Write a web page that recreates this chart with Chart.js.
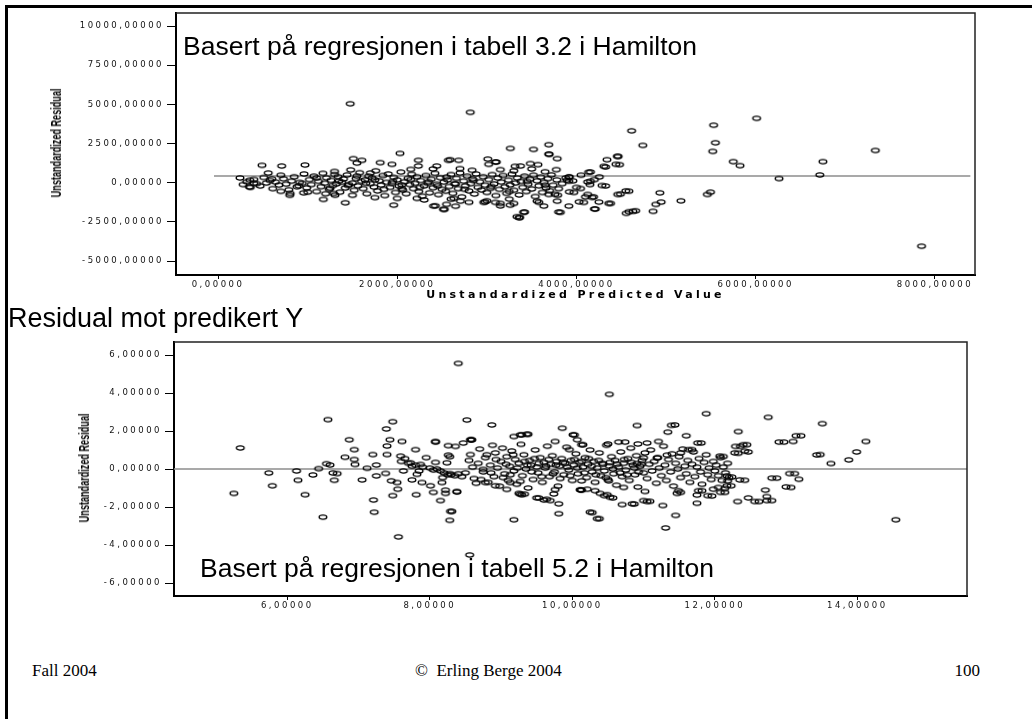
<!DOCTYPE html>
<html>
<head>
<meta charset="utf-8">
<script src="https://cdn.jsdelivr.net/npm/chart.js@4/dist/chart.umd.min.js"></script>
<style>
  html, body { margin: 0; padding: 0; background: #fff; }
  body { width: 1032px; height: 719px; position: relative; overflow: hidden; font-family: "Liberation Sans", Arial, sans-serif; }
  .frame { position: absolute; left: 5px; top: 5px; width: 1100px; height: 800px; border-left: 3px solid #000; border-top: 3px solid #000; }
  canvas { position: absolute; }
  #chartTop { left: 40px; top: 5px; }
  #chartBottom { left: 70px; top: 334px; }
  .note { position: absolute; white-space: nowrap; line-height: 1; color: #000; }
  .ytitle { position: absolute; white-space: nowrap; font-weight: bold; font-size: 14px; line-height: 1; color: #000;
            transform: translate(-50%, -50%) rotate(-90deg) scaleX(0.65); }
  .foot { position: absolute; font-family: "Liberation Serif", "Times New Roman", serif; font-size: 17px; line-height: 1; white-space: nowrap; }
</style>
</head>
<body>
<div class="frame"></div>
<canvas id="chartTop" width="950" height="300"></canvas>
<canvas id="chartBottom" width="920" height="285"></canvas>

<div class="ytitle" style="left:56px; top:143px;">Unstandardized Residual</div>
<div class="ytitle" style="left:84px; top:468px;">Unstandardized Residual</div>

<div class="note" style="left:183px; top:33px; font-size:26.5px;">Basert på regresjonen i tabell 3.2 i Hamilton</div>
<div class="note" style="left:8px; top:305px; font-size:27px;">Residual mot predikert Y</div>
<div class="note" style="left:200px; top:555px; font-size:26.5px;">Basert på regresjonen i tabell 5.2 i Hamilton</div>

<div class="foot" style="left:32px; top:662px;">Fall 2004</div>
<div class="foot" style="left:415px; top:662px;">©&nbsp; Erling Berge 2004</div>
<div class="foot" style="right:52px; top:662px;">100</div>

<script>
// tabell 3.2: [predicted, residual]
const residualsTop = [
  [1475,5040],[2815,4490],[2030,1870],[3262,2190],[6010,4110],[5530,3670],[4615,3310],[4740,2380],[5550,2550],[5520,2000],
  [7335,2060],[6750,1345],[6715,495],[6260,265],[5750,1345],[5825,1090],[7850,-4050],[5495,-600],[5460,-750],[5165,-1155],
  [4930,-645],[4945,-1235],[4885,-1385],[4855,-1825],[4630,-1825],[4555,-1955],[4550,-520],[4460,-750],[4455,1680],[4440,1175],
  [4340,1470],[4305,1045],[4255,370],[4135,665],[4360,-1320],[4200,-1680],[4175,-940],[4125,-750],[4250,-1235],[4285,-180],
  [4125,50],[4030,-1220],[3915,-1490],[3800,-1870],[3785,-1175],[3915,370],[3915,95],[3690,2425],[3690,1825],[3785,1535],
  [3775,835],[3520,2125],[3570,1155],[3485,1220],[3375,1065],[3635,-1490],[3420,-1870],[3360,-2235],
  [490,1110],[710,1065],[970,1130],[245,305],[355,160],[350,-265],[560,620],[805,-685],[955,-645],[1175,-1065],
  [1305,-795],[1420,-1280],[1960,-1430],[2405,-1490],[2515,-1700],[1510,1535],[1605,1430],[1550,1255],[1810,1280],[1940,1175],
  [2235,1430],[2235,1065],[2570,1430],[2685,1430],[2440,1065],[3010,1510],[3095,1320],[3020,1175],[2835,795],[3150,835],
  [3315,1045],[2050,-370],[1290,-685],[2220,-1000],[3150,-1320],[2980,-1220],[3335,-2170],[3300,-1320],
  [3695,1810],[2590,1470],[3105,1320],[4465,1680],[4480,1155],[4325,1005],[4155,685],[4490,-730],[4585,-540],[4585,-1850],
  [4660,-1790],[4380,-1320],[4210,-1680],[4080,-1255],[3820,-1890],[3410,-1890],[3365,-2210],[3260,-1430],[2965,-1255],[3095,-1255],
  [2425,-1470],[2525,-1700],[2705,-1175],[2630,-1000],[3560,-1175],[3690,-750],[3790,-795],[3970,-620],[4190,-900],[4045,-370],
  [4155,95],[4325,-205],[3920,370],[3895,160],
  [280,-120],[320,60],[360,-300],[400,210],[430,-60],[470,-210],[510,330],[540,-20],[580,140],[610,-380],
  [640,40],[680,-150],[700,480],[730,250],[760,-90],[790,-450],[820,100],[850,380],[880,-260],[910,20],
  [940,-40],[960,560],[990,-330],[1020,200],[1040,-120],[1070,420],[1100,-560],[1120,90],[1150,-250],[1170,600],
  [1190,-30],[1210,310],[1240,-420],[1260,150],[1280,-180],[1300,720],[1320,-80],[1340,380],[1360,-600],[1380,30],
  [1400,240],[1420,-340],[1440,500],[1460,-120],[1480,820],[1500,-20],[1520,-480],[1540,270],[1560,-200],[1580,640],
  [1600,90],[1620,-380],[1640,180],[1660,-700],[1680,420],[1700,-60],[1720,300],[1740,-280],[1760,760],[1780,-520],
  [1800,120],[1820,-150],[1840,460],[1860,-820],[1880,20],[1900,560],[1920,-300],[1940,-40],[1960,340],[1980,-620],
  [2000,180],[2020,-220],[2040,680],[2060,-460],[2080,60],[2100,-700],[2120,280],[2140,-120],[2160,540],[2180,-380],
  [2200,-40],[2220,380],[2240,-560],[2260,140],[2280,-860],[2300,-200],[2320,460],[2340,-40],[2360,-640],[2380,220],
  [2400,-320],[2420,600],[2440,-100],[2460,-760],[2480,320],[2500,-420],[2520,40],[2540,-540],[2560,180],[2580,-240],
  [2600,520],[2620,-680],[2640,-60],[2660,280],[2680,-380],[2700,620],[2720,-900],[2740,100],[2760,-200],[2780,420],
  [2800,-520],[2820,-60],[2840,240],[2860,-720],[2880,560],[2900,-300],[2920,60],[2940,-460],[2960,380],[2980,-160],
  [3000,-620],[3020,200],[3040,-360],[3060,520],[3080,-80],[3100,-820],[3120,300],[3140,-420],[3160,40],[3180,460],
  [3200,-260],[3220,-680],[3240,160],[3260,-140],[3280,540],[3300,-480],[3320,-20],[3340,300],[3360,-780],[3380,80],
  [3400,-300],[3420,420],[3440,-560],[3460,-100],[3480,220],[3500,-400],[3520,480],[3540,-880],[3560,120],[3580,-200],
  [3600,360],[3620,-620],[3640,20],[3660,-340],[3680,260],[3700,-500],[3720,500],[3740,-160],[3760,-740],[3780,180],
  [3800,-380],[3840,-60],[3880,300],[3920,-580],[3960,120],[4000,-300],[4050,480],[4100,-900],[4150,-120],[4200,200],
  [400,-40],[600,250],[900,-200],[1100,300],[1250,-350],[1350,100],[1450,-180],[1550,420],[1650,-40],[1750,180],
  [1850,-420],[1950,80],[2050,-140],[2150,200],[2250,-300],[2350,60],[2450,-200],[2550,360],[2650,-80],[2750,-420],
  [2850,140],[3050,-240],[3250,-560],[3450,80],[3650,-160],[1200,-700],[1500,-800],[1750,-950],[2000,-1000],[2300,-1100],
  [2600,-1050],[1000,-600],[800,-800],[700,-550],[1300,520],[1700,620],[2150,850],[2400,880],[2700,900],[3300,760],
  [3500,880],[3650,700],[3580,-1250],[3250,-1050],[3000,-1150],[2800,-1250],[2650,-1500],[2550,-1380],[3150,-1480]
];
const refXTop = [-45, 8395];
const refYTop = 430;
const xTicksTop = [0, 2000, 4000, 6000, 8000];
const yTicksTop = [-5000, -2500, 0, 2500, 5000, 7500, 10000];
const xRangeTop = [-469, 8447];
const yRangeTop = [-5888, 10825];

// tabell 5.2: [predicted, residual]
const residualsBottom = [
  [5.34,1.11],[5.25,-1.28],[5.74,-0.21],[5.79,-0.88],[6.13,-0.10],[6.15,-0.59],[6.25,-1.35],[6.36,-0.31],[6.44,0.02],[6.50,-2.53],
  [6.57,2.60],[6.55,0.28],[6.60,0.21],[6.64,-0.21],[6.66,-0.59],[6.70,-0.24],[6.81,0.62],[6.87,1.54],[6.94,1.02],[6.94,0.50],
  [6.95,0.24],[7.05,-0.57],[7.12,0.04],[7.20,0.76],[7.21,-1.63],[7.22,-2.27],[7.25,0.21],[7.25,-0.36],[7.39,2.11],[7.40,1.21],
  [7.40,0.76],[7.38,-0.23],[7.44,1.54],[7.48,2.49],[7.46,-0.62],[7.54,-0.71],[7.55,-1.06],[7.48,-1.40],[7.56,-3.57],[7.61,1.45],
  [7.59,0.68],[7.63,-0.10],[7.73,0.33],[7.75,-0.57],[7.81,-1.35],[7.80,1.02],[7.87,0.24],[7.82,-0.28],[7.89,-0.71],[8.08,1.45],
  [8.01,-0.88],[8.05,-1.23],[8.15,-1.66],[8.17,-0.71],[8.22,-1.28],[8.29,-2.23],[8.28,-2.70],[8.26,1.23],[8.26,0.73],[8.24,0.33],
  [8.38,-1.18],[8.40,5.56],[8.52,2.58],[8.57,1.54],[8.56,-4.52],[8.87,2.32],[9.18,-2.67],[9.18,1.71],
  [10.52,3.93],[11.88,2.91],[12.75,2.72],[13.51,2.39],[14.12,1.45],[13.99,0.90],[13.88,0.48],[13.63,0.29],[13.43,0.74],[13.14,1.75],
  [13.10,1.45],[12.90,1.42],[13.05,-0.24],[13.18,-0.54],[13.00,-0.94],[12.80,-0.48],[12.71,-1.11],[12.73,-1.45],[12.73,-1.66],[12.56,-1.71],
  [12.47,-1.52],[12.32,-1.71],[12.35,-0.57],[14.54,-2.67],[12.33,1.97],[12.29,1.19],[12.40,1.28],[12.42,0.94],[12.28,0.85],[12.07,0.68],
  [11.31,-3.10],[11.45,-2.44],[11.27,-1.92],[10.35,-2.61],[10.25,-2.27],[9.81,-2.35],[9.81,-1.83],[9.86,2.15],[10.91,2.29],[11.39,2.30],
  [11.34,1.94],[11.60,1.75],[11.76,1.37],[11.63,1.02],[10.01,1.80],[10.07,1.54],[10.13,1.28],[9.96,1.02],[9.27,1.80],[9.36,1.83],
  [9.76,1.45],[10.50,1.32],[10.65,1.42],[10.74,1.42],[10.92,1.32],[11.05,1.37],[11.21,1.45],[11.00,0.59],[11.19,0.59],[11.33,0.73],
  [11.52,0.85],[10.91,0.29],[10.70,-1.87],[10.84,-1.83],[11.00,-1.66],[11.05,-1.71],[10.53,-1.49],[10.45,-1.40],[10.39,-1.28],[10.21,-1.06],
  [10.11,-1.09],[9.50,-1.52],[9.60,-1.63],[9.69,-1.66],[9.74,-1.31],[9.76,-1.08],[9.25,-1.28],[9.29,-1.35],[11.75,-1.80],[11.77,-1.14],
  [11.90,-1.40],[11.49,-1.14],[11.47,-1.28],[11.75,-1.37],[11.98,-1.06],[12.08,-1.23],[12.05,-0.97],[12.17,-0.88],[12.17,-0.36],
  [11.44,2.32],[11.81,1.37],[12.45,1.28],[12.36,1.19],[12.47,0.90],[12.33,0.83],[12.12,0.66],[11.68,1.02],[12.97,1.42],[13.21,1.75],
  [13.48,0.76],[13.12,-0.24],[12.87,-0.48],[13.07,-0.97],[12.80,-1.66],[12.62,-1.71],[12.42,-0.59],[12.24,-0.42],[12.18,-0.62],[12.23,-0.88],
  [12.14,-1.02],[11.96,-1.42],[12.14,-1.23],[11.82,-1.14],[11.52,-1.23],[11.09,-1.70],[11.02,-1.18],
  [9.29,1.80],[9.38,1.83],[10.03,1.80],[10.15,1.28],[8.58,1.54],[8.08,1.42],[8.28,-0.24],[8.31,-2.23],[10.28,-2.29],[10.38,-2.61],
  [10.87,-1.84],[8.22,-1.11],[8.38,-1.21],[8.78,-0.71],[8.92,-0.88],[9.08,-1.07],[9.27,-1.32],[9.33,-1.32],[9.53,-1.52],[9.64,-1.59],
  [10.13,-1.11],[10.32,-1.14],[10.49,-1.35],[10.57,-1.52],[10.72,-0.97],[10.51,-0.62],[10.13,-0.62],[9.13,-0.71],[8.75,-0.02],[8.57,0.76],
  [8.36,1.19],[8.47,1.37],[8.59,1.54],
  [8.30,-0.30],[8.35,-0.35],[8.40,-0.25],[8.45,-0.40],[8.50,-0.20],[8.55,0.45],[8.60,0.10],[8.62,-0.50],[8.68,0.30],[8.70,1.05],
  [8.75,-0.15],[8.78,0.60],[8.82,-0.70],[8.85,0.20],[8.88,1.25],[8.90,-0.40],[8.92,0.85],[8.95,0.05],[8.98,-0.90],[9.00,0.40],
  [9.02,1.10],[9.05,-0.25],[9.08,0.65],[9.10,-0.60],[9.12,0.15],[9.15,0.95],[9.18,-0.10],[9.20,0.50],[9.22,-0.80],[9.25,0.30],
  [9.28,1.30],[9.30,-0.35],[9.32,0.75],[9.35,0.00],[9.38,-1.00],[9.40,0.45],[9.42,0.20],[9.45,-0.55],[9.48,1.00],[9.50,0.10],
  [9.52,-0.20],[9.55,0.60],[9.58,-0.70],[9.60,0.35],[9.62,0.05],[9.65,1.20],[9.68,-0.40],[9.70,0.25],[9.72,0.70],[9.75,-0.15],
  [9.78,0.40],[9.80,-0.90],[9.82,0.15],[9.85,0.55],[9.88,-0.30],[9.90,0.30],[9.92,1.15],[9.95,-0.05],[9.98,0.45],[10.00,-0.60],
  [10.02,0.20],[10.05,0.80],[10.08,-0.25],[10.10,0.35],[10.12,-1.10],[10.15,0.10],[10.18,0.60],[10.20,-0.45],[10.22,0.25],[10.25,1.00],
  [10.28,-0.15],[10.30,0.40],[10.32,-0.70],[10.35,0.05],[10.38,0.85],[10.40,-0.35],[10.42,0.30],[10.45,-0.10],[10.48,1.25],[10.50,-0.55],
  [10.52,0.15],[10.55,0.65],[10.58,-0.25],[10.60,0.45],[10.62,-0.85],[10.65,0.10],[10.68,0.90],[10.70,-0.40],[10.72,0.30],[10.75,-0.05],
  [10.78,0.55],[10.80,-0.60],[10.82,1.10],[10.85,0.20],[10.88,-0.30],[10.90,0.70],[10.92,-0.95],[10.95,0.15],[10.98,0.45],[11.00,-0.20],
  [11.02,0.85],[11.05,-0.50],[11.08,0.25],[11.10,1.00],[11.12,-0.10],[11.15,0.40],[11.18,-0.75],[11.20,0.60],[11.22,0.05],[11.25,-0.35],
  [11.28,1.20],[11.30,0.20],[11.32,-0.60],[11.35,0.50],[11.38,-0.15],[11.40,0.80],[11.42,-0.90],[11.45,0.30],[11.48,0.00],[11.50,0.65],
  [11.52,-0.45],[11.55,1.05],[11.58,0.15],[11.60,-0.25],[11.62,0.45],[11.65,-0.70],[11.68,0.25],[11.70,0.90],[11.72,-0.40],[11.75,0.10],
  [11.78,0.55],[11.80,-0.15],[11.82,-0.80],[11.85,0.35],[11.88,0.75],[11.90,-0.30],[11.92,0.05],[11.95,-0.55],[11.98,0.40],[12.00,-0.10],
  [12.02,0.20],[12.05,-0.35],[12.08,0.60],[12.10,-0.60],[12.12,0.10],[12.15,-0.20],[12.18,0.30],[12.20,-0.45],
  [7.60,0.40],[7.70,0.30],[7.80,0.20],[7.90,0.10],[8.00,0.05],[8.05,-0.05],[8.10,0.00],[8.15,-0.10],[8.20,-0.20],[8.25,-0.30],
  [7.65,0.55],[7.75,0.15],[7.85,-0.10],[7.95,0.60],[8.08,0.35],[8.18,-0.45],[8.28,0.65],
  [8.65,-0.75],[8.72,-0.55],[8.80,0.75],[8.86,-0.20],[8.93,0.50],[9.03,-0.45],[9.07,0.25],[9.13,-0.30],[9.17,0.75],[9.23,0.05],
  [9.27,-0.65],[9.33,0.40],[9.37,0.20],[9.43,-0.15],[9.47,0.55],[9.53,0.30],[9.57,-0.40],[9.63,0.15],[9.67,0.50],[9.73,-0.25],
  [9.77,0.20],[9.83,-0.50],[9.87,0.35],[9.93,0.10],[9.97,-0.35],[10.03,0.50],[10.07,0.05],[10.13,0.40],[10.17,-0.20],[10.23,0.55],
  [10.27,0.15],[10.33,-0.30],[10.37,0.45],[10.43,0.25],[10.47,-0.45],[10.53,0.35],[10.57,0.00],[10.63,0.25],[10.67,-0.20],[10.73,0.50],
  [10.77,-0.30],[10.83,0.35],[10.87,0.05],[10.93,-0.15],[10.97,0.25]
];
const refXBottom = [4.41, 15.54];
const refYBottom = 0;
const xTicksBottom = [6, 8, 10, 12, 14];
const yTicksBottom = [-6, -4, -2, 0, 2, 4, 6];
const xRangeBottom = [4.41, 15.54];
const yRangeBottom = [-6.68, 6.68];

// open ellipse marker like the SPSS plot
const ring = (() => {
    const c = document.createElement('canvas');
    c.width = 12; c.height = 8;
    const g = c.getContext('2d');
    g.strokeStyle = '#000';
    g.lineWidth = 1.4;
    g.beginPath();
    g.ellipse(6, 4, 3.8, 2.1, 0, 0, Math.PI * 2);
    g.stroke();
    return c;
})();

const comma = v => v.toFixed(5).replace('.', ',');

// wide letter spacing for titles and tick labels (ticks drawn after datasets, z: 1)
const spacing = {
    id: 'spacing',
    beforeDraw(chart, args, opts) { chart.ctx.letterSpacing = opts.title; },
    afterDatasetsDraw(chart, args, opts) { chart.ctx.letterSpacing = opts.ticks; }
};

const frameBox = {
    id: 'frameBox',
    afterDraw(chart) {
        const { ctx, chartArea: a } = chart;
        ctx.save();
        ctx.strokeStyle = '#222';
        ctx.lineWidth = 1.5;
        ctx.beginPath();
        ctx.moveTo(a.left, a.top);
        ctx.lineTo(a.right, a.top);
        ctx.lineTo(a.right, a.bottom);
        ctx.stroke();
        ctx.restore();
    }
};

function residualPlot(id, points, refX, refY, xTicks, yTicks, xRange, yRange, box) {
    const tickFont = { family: 'DejaVu Sans', size: 8.5 };
    new Chart(document.getElementById(id), {
        type: 'scatter',
        data: {
            datasets: [
                {
                    data: points.map(p => ({ x: p[0], y: p[1] })),
                    pointStyle: ring,
                    pointRadius: 4,
                    pointHoverRadius: 4,
                    order: 1
                },
                {
                    data: refX.map(x => ({ x: x, y: refY })),
                    showLine: true,
                    borderColor: '#8c8c8c',
                    borderWidth: 1.5,
                    pointRadius: 0,
                    order: 2
                }
            ]
        },
        options: {
            responsive: false,
            animation: false,
            events: [],
            layout: { padding: box.padding },
            plugins: {
                legend: { display: false },
                tooltip: { enabled: false },
                spacing: { title: '3.3px', ticks: '2.5px' }
            },
            scales: {
                x: {
                    type: 'linear',
                    min: xRange[0],
                    max: xRange[1],
                    afterBuildTicks: s => { s.ticks = xTicks.map(v => ({ value: v })); },
                    afterFit: s => { s.height = box.xHeight; },
                    ticks: { callback: comma, font: tickFont, color: '#111', padding: 1, maxRotation: 0, autoSkip: false, z: 1 },
                    grid: { drawOnChartArea: false, drawTicks: true, tickLength: 4, color: '#000' },
                    border: { display: true, color: '#000', width: 2 },
                    title: {
                        display: !!box.xTitle,
                        text: box.xTitle || '',
                        color: '#000',
                        font: { family: 'DejaVu Sans', size: 11, weight: 'bold' },
                        padding: { top: 0, bottom: 3 }
                    }
                },
                y: {
                    type: 'linear',
                    min: yRange[0],
                    max: yRange[1],
                    afterBuildTicks: s => { s.ticks = yTicks.map(v => ({ value: v })); },
                    afterFit: s => { s.width = box.yWidth; },
                    ticks: { callback: comma, font: tickFont, color: '#111', padding: 3, autoSkip: false, z: 1 },
                    grid: { drawOnChartArea: false, drawTicks: true, tickLength: 9, color: '#000' },
                    border: { display: true, color: '#000', width: 2 }
                }
            }
        },
        plugins: [spacing, frameBox]
    });
}

residualPlot('chartTop', residualsTop, refXTop, refYTop, xTicksTop, yTicksTop, xRangeTop, yRangeTop, {
    padding: { left: 0, top: 7, right: 15, bottom: 0 },
    yWidth: 136,
    xHeight: 30,
    xTitle: 'Unstandardized Predicted Value'
});

residualPlot('chartBottom', residualsBottom, refXBottom, refYBottom, xTicksBottom, yTicksBottom, xRangeBottom, yRangeBottom, {
    padding: { left: 0, top: 5, right: 23, bottom: 0 },
    yWidth: 104,
    xHeight: 23
});
</script>
</body>
</html>
